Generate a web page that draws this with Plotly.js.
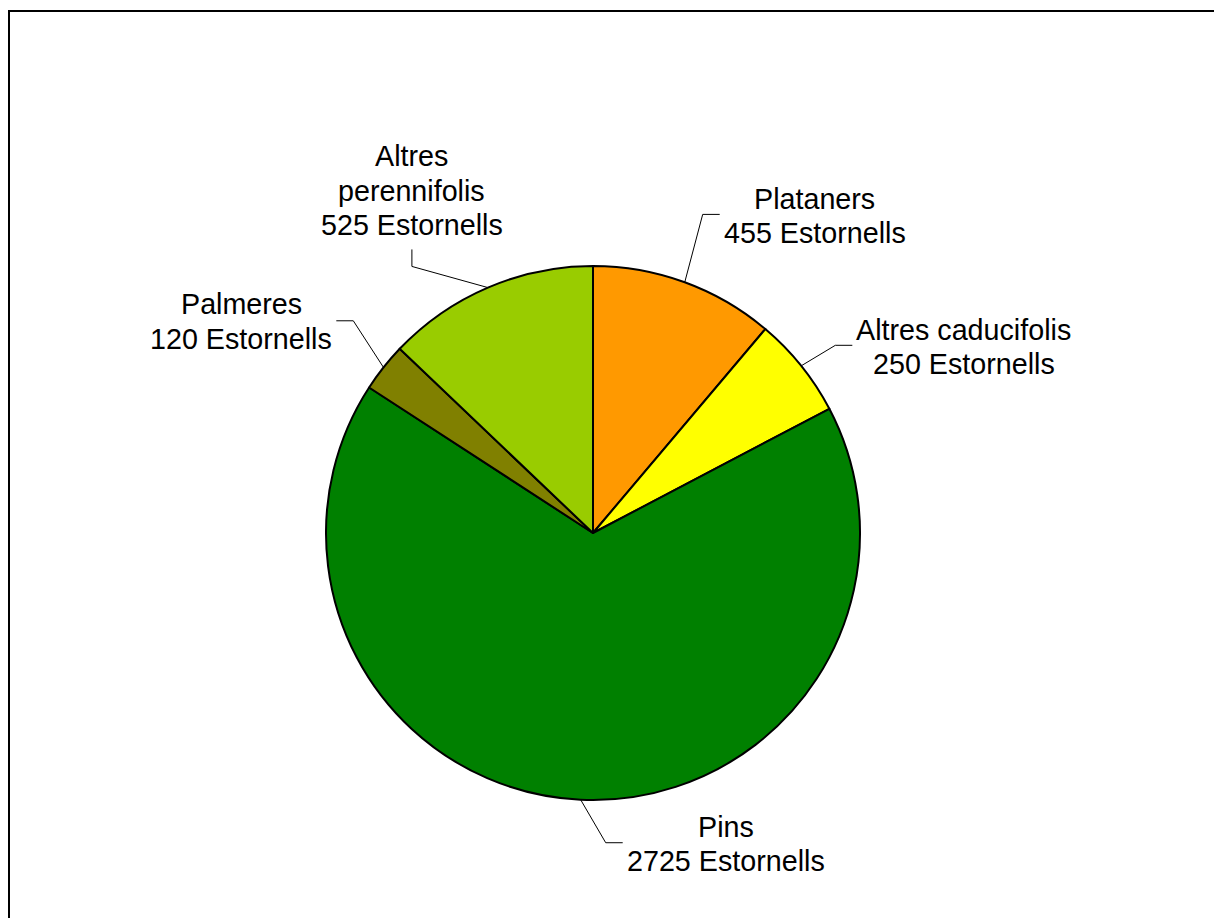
<!DOCTYPE html>
<html>
<head>
<meta charset="utf-8">
<script src="https://cdn.plot.ly/plotly-3.0.1.min.js"></script>
<style>
  html, body { margin: 0; padding: 0; background: #ffffff; }
  #chart { width: 1214px; height: 918px; }
</style>
</head>
<body>
<div id="chart"></div>
<script>
// ---- data ----
const categories = ['Plataners', 'Altres caducifolis', 'Pins', 'Palmeres', 'Altres perennifolis'];
const values = [455, 250, 2725, 120, 525];
const labelNames = [['Plataners'], ['Altres caducifolis'], ['Pins'], ['Palmeres'], ['Altres', 'perennifolis']];
const unitText = 'Estornells';
const colors = ['#FF9900', '#FFFF00', '#008000', '#808000', '#99CC00'];

// ---- label placement (layout only) ----
const labelAngleShift = [-1.1, 1.0, -5.0, 3.2, -11.0];   // degrees from slice mid-angle
const labelRadiusFactor = [1.262, 1.148, 1.161, 1.199, 1.207];
const labelSide = ['right', 'right', 'right', 'left', 'top'];

const W = 1214, H = 918;
const cx = 593, cy = 533, R = 267;
const FONT = 28.7, LINE = 34.5, SEG = 17, GAP = 4;
const fontFamily = '"Liberation Sans", Arial, sans-serif';

const ctx = document.createElement('canvas').getContext('2d');
ctx.font = FONT + 'px "Liberation Sans"';

const total = values.reduce((a, b) => a + b, 0);
const px = x => x / W, py = y => 1 - y / H;

const shapes = [
  { type: 'line', xref: 'paper', yref: 'paper', x0: px(8), y0: py(11), x1: 1, y1: py(11),
    line: { color: '#000000', width: 2 } },
  { type: 'line', xref: 'paper', yref: 'paper', x0: px(9), y0: py(10), x1: px(9), y1: 0,
    line: { color: '#000000', width: 2 } }
];
const annotations = [];

let cum = 0;
values.forEach((v, i) => {
  const mid = (cum + v / 2) / total * 360;
  cum += v;
  const tm = mid * Math.PI / 180;
  const ex = cx + R * Math.sin(tm), ey = cy - R * Math.cos(tm);
  const ta = (mid + labelAngleShift[i]) * Math.PI / 180;
  const bx = cx + R * labelRadiusFactor[i] * Math.sin(ta);
  const by = cy - R * labelRadiusFactor[i] * Math.cos(ta);
  let hx = bx, hy = by;
  if (labelSide[i] === 'right') hx = bx + SEG;
  else if (labelSide[i] === 'left') hx = bx - SEG;
  else hy = by - SEG;
  shapes.push({
    type: 'path', xref: 'paper', yref: 'paper',
    path: `M ${px(ex)},${py(ey)} L ${px(bx)},${py(by)} L ${px(hx)},${py(hy)}`,
    line: { color: '#000000', width: 1 }
  });
  const lines = labelNames[i].concat([v + ' ' + unitText]);
  const widths = lines.map(t => ctx.measureText(t).width);
  const boxW = Math.max(...widths);
  let centerX, firstY;
  const n = lines.length;
  if (labelSide[i] === 'right') {
    centerX = hx + GAP + boxW / 2;
    firstY = hy + 1.5 - (n - 1) / 2 * LINE;
  } else if (labelSide[i] === 'left') {
    centerX = hx - GAP - boxW / 2;
    firstY = hy + 0.5 - (n - 1) / 2 * LINE;
  } else {
    centerX = hx;
    firstY = hy - 24 - (n - 1) * LINE;
  }
  lines.forEach((t, k) => {
    annotations.push({
      xref: 'paper', yref: 'paper',
      x: px(centerX), y: py(firstY + k * LINE),
      xanchor: 'center', yanchor: 'middle',
      text: t, showarrow: false,
      font: { family: fontFamily, size: FONT, color: '#000000' }
    });
  });
});

const trace = {
  type: 'pie',
  labels: categories,
  values: values,
  sort: false,
  direction: 'clockwise',
  rotation: 0,
  textinfo: 'none',
  hoverinfo: 'label+value',
  marker: { colors: colors, line: { color: '#000000', width: 2 } },
  domain: { x: [(cx - R) / W, (cx + R) / W], y: [1 - (cy + R) / H, 1 - (cy - R) / H] },
  showlegend: false
};

const layout = {
  width: W, height: H,
  margin: { l: 0, r: 0, t: 0, b: 0 },
  paper_bgcolor: '#ffffff',
  plot_bgcolor: '#ffffff',
  showlegend: false,
  shapes: shapes,
  annotations: annotations,
  font: { family: fontFamily, color: '#000000' }
};

Plotly.newPlot('chart', [trace], layout, { displayModeBar: false, staticPlot: true });
</script>
</body>
</html>
